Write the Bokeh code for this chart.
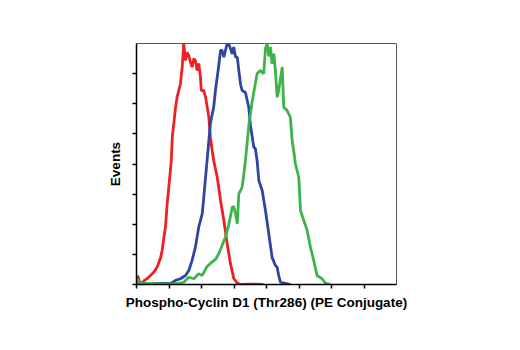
from bokeh.plotting import figure
from bokeh.models import Range1d, FixedTicker
from bokeh.embed import file_html
from bokeh.resources import INLINE

# Channel (x) and event count (y) values
red_x = [4, 12, 20, 31, 43, 55, 67, 81, 94, 101, 106, 114, 121, 131, 137, 141, 154, 160, 173, 180, 186,
         193, 199, 206, 213, 219, 226, 232, 239, 245, 252, 255, 265, 272, 285, 291, 298, 304, 318, 331,
         344, 357, 370, 383, 397, 410, 450, 500]
red_y = [6, 2, 0.7, 2.7, 4, 6, 8, 11.5, 17.3, 22.6, 29, 38, 53.8, 71.2, 82.3, 97.8, 117.7, 124.4, 133.3,
         144.3, 160, 148.7, 154, 152, 147.4, 144.3, 150, 148.7, 142, 146.7, 137.6, 128.8, 128.8, 124.4,
         111, 97.8, 89, 82.3, 71.2, 55.8, 42.5, 27.2, 14, 4, 0.9, 0, 0.3, 0]

blue_x = [4, 40, 80, 134, 154, 173, 193, 206, 219, 232, 245, 259, 265, 272, 278, 285, 291, 304, 311,
          324, 331, 337, 344, 357, 364, 370, 377, 383, 390, 397, 403, 410, 416, 429, 442, 449, 456, 462,
          468, 475, 482, 495, 508, 521, 534, 547, 554, 560, 567, 587, 606]
blue_y = [0.7, 0.3, 0.7, 0.7, 2.7, 3.8, 6, 9.3, 16, 24.8, 38, 47, 58, 71.2, 82.3, 95.6, 107, 117.7,
          128.8, 145.4, 155.4, 155.4, 151, 160, 159.4, 156.7, 153.2, 157.6, 151, 151, 142, 132.8, 128.8,
          127.5, 117.7, 105.6, 97.8, 91.2, 90.3, 82.3, 69, 62.4, 49, 33.7, 18, 12.6, 11.5, 6, 1.5, 0.7, 0]

green_x = [3, 12, 55, 114, 165, 186, 206, 226, 245, 259, 278, 298, 311, 324, 337, 350, 363, 377, 383,
           390, 397, 403, 416, 423, 429, 443, 449, 456, 475, 488, 501, 508, 515, 521, 528, 534, 541, 547,
           554, 560, 574, 580, 593, 606, 613, 619, 626, 639, 646, 659, 672, 685, 698, 711, 731, 744, 764]
green_y = [3.8, 0.7, 0.7, 0.3, 0.7, 1.5, 4.8, 3.8, 7.1, 6, 12, 15, 16.6, 20.4, 25.9, 31.4, 39.2, 51.3,
           51.8, 47, 40.3, 60.2, 64.6, 73.5, 82.3, 106.7, 113.5, 122, 140, 142, 140, 156.7, 160, 151.4,
           157.6, 146.5, 153.2, 142, 124.4, 128.8, 144.3, 117.7, 115.5, 111, 95.6, 89, 80, 71.2, 49, 42.5,
           35.9, 24.8, 16, 6, 3.8, 0.9, 0]

x_ticks = [0, 128, 256, 384, 512, 640, 768, 896]
y_ticks = [0, 20, 40, 60, 80, 100, 120, 140]

x_label = "Phospho-Cyclin D1 (Thr286) (PE Conjugate)"
y_label = "Events"

p = figure(width=520, height=350, output_backend="svg", toolbar_location=None,
           x_range=Range1d(0, 1024), y_range=Range1d(0, 160),
           min_border_left=136, min_border_right=124, min_border_top=43, min_border_bottom=66)
p.background_fill_color = "white"
p.border_fill_color = "white"
p.grid.visible = False
p.outline_line_color = "#555555"
p.outline_line_width = 1

for ax, ticks in ((p.xaxis, x_ticks), (p.yaxis, y_ticks)):
    ax.ticker = FixedTicker(ticks=ticks)
    ax.major_label_overrides = {t: "" for t in ticks}
    ax.major_label_standoff = 0
    ax.minor_tick_line_color = None
    ax.major_tick_in = 0
    ax.major_tick_out = 4
    ax.major_tick_line_color = "black"
    ax.major_tick_line_width = 1.5
    ax.axis_line_color = "black"
    ax.axis_line_width = 1.5
    ax.axis_label_text_font = "Liberation Sans"
    ax.axis_label_text_font_style = "bold"
    ax.axis_label_text_font_size = "13.5px"
    ax.axis_label_text_color = "black"

p.xaxis.axis_label = x_label
p.yaxis.axis_label = y_label
p.xaxis.axis_label_standoff = 6
p.yaxis.axis_label_standoff = 10

p.line(red_x, red_y, line_color="#ed2024", line_width=2.8)
p.line(blue_x, blue_y, line_color="#2f45a0", line_width=2.8)
p.line(green_x, green_y, line_color="#3cb44a", line_width=2.8)

open("out.html", "w").write(file_html(p, INLINE))
